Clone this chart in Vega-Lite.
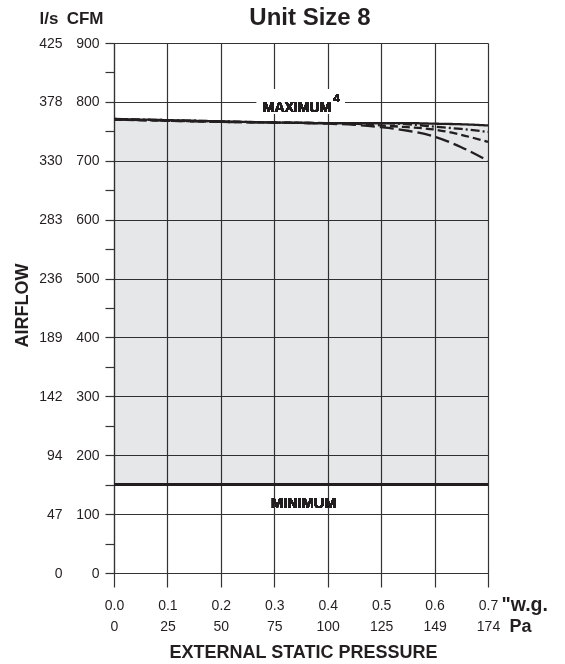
{
  "$schema": "https://vega.github.io/schema/vega-lite/v6.json",
  "width": 374,
  "height": 530,
  "autosize": "none",
  "padding": {"left": 114, "top": 43, "right": 77, "bottom": 91},
  "background": "white",
  "title": {"text": "Unit Size 8", "font": "Liberation Sans", "fontSize": 24, "fontWeight": "bold", "color": "#231f20", "anchor": "middle", "dx": 9, "offset": -40, "baseline": "alphabetic"},
  "config": {
    "view": {"stroke": null},
    "font": "Liberation Sans",
    "axis": {
      "labelFont": "Liberation Sans", "labelFontSize": 14, "labelColor": "#231f20",
      "titleFont": "Liberation Sans", "titleFontWeight": "bold", "titleColor": "#231f20", "titleFontSize": 18,
      "domainColor": "#333333", "tickColor": "#333333", "gridColor": "#333333",
      "gridWidth": 1.2, "tickWidth": 1.2, "domainWidth": 1.2,
      "labelFlush": false, "labelOverlap": false
    }
  },
  "data": {"values": [
    {"p": 0.0, "cfm": 771, "curve": "solid"},
    {"p": 0.1, "cfm": 769, "curve": "solid"},
    {"p": 0.2, "cfm": 767, "curve": "solid"},
    {"p": 0.3, "cfm": 765, "curve": "solid"},
    {"p": 0.4, "cfm": 764, "curve": "solid"},
    {"p": 0.45, "cfm": 764, "curve": "solid"},
    {"p": 0.5, "cfm": 764, "curve": "solid"},
    {"p": 0.55, "cfm": 764, "curve": "solid"},
    {"p": 0.6, "cfm": 763, "curve": "solid"},
    {"p": 0.65, "cfm": 762, "curve": "solid"},
    {"p": 0.7, "cfm": 760, "curve": "solid"},
    {"p": 0.0, "cfm": 771, "curve": "dashdot"},
    {"p": 0.1, "cfm": 769, "curve": "dashdot"},
    {"p": 0.2, "cfm": 767, "curve": "dashdot"},
    {"p": 0.3, "cfm": 765, "curve": "dashdot"},
    {"p": 0.4, "cfm": 764, "curve": "dashdot"},
    {"p": 0.45, "cfm": 764, "curve": "dashdot"},
    {"p": 0.5, "cfm": 764, "curve": "dashdot"},
    {"p": 0.55, "cfm": 762, "curve": "dashdot"},
    {"p": 0.6, "cfm": 758, "curve": "dashdot"},
    {"p": 0.65, "cfm": 754, "curve": "dashdot"},
    {"p": 0.7, "cfm": 749, "curve": "dashdot"},
    {"p": 0.0, "cfm": 770, "curve": "medium"},
    {"p": 0.1, "cfm": 768, "curve": "medium"},
    {"p": 0.2, "cfm": 766, "curve": "medium"},
    {"p": 0.3, "cfm": 765, "curve": "medium"},
    {"p": 0.4, "cfm": 764, "curve": "medium"},
    {"p": 0.45, "cfm": 763, "curve": "medium"},
    {"p": 0.5, "cfm": 760, "curve": "medium"},
    {"p": 0.55, "cfm": 757, "curve": "medium"},
    {"p": 0.6, "cfm": 753, "curve": "medium"},
    {"p": 0.65, "cfm": 744, "curve": "medium"},
    {"p": 0.7, "cfm": 732, "curve": "medium"},
    {"p": 0.0, "cfm": 770, "curve": "long"},
    {"p": 0.1, "cfm": 768, "curve": "long"},
    {"p": 0.2, "cfm": 766, "curve": "long"},
    {"p": 0.3, "cfm": 765, "curve": "long"},
    {"p": 0.4, "cfm": 763, "curve": "long"},
    {"p": 0.45, "cfm": 761, "curve": "long"},
    {"p": 0.5, "cfm": 757, "curve": "long"},
    {"p": 0.55, "cfm": 751, "curve": "long"},
    {"p": 0.6, "cfm": 741, "curve": "long"},
    {"p": 0.65, "cfm": 723, "curve": "long"},
    {"p": 0.7, "cfm": 700, "curve": "long"}
  ]},
  "layer": [
    {
      "transform": [{"filter": "datum.curve == 'solid'"}],
      "mark": {"type": "area", "interpolate": "monotone", "fill": "#e6e7e8", "blend": "multiply"},
      "encoding": {
        "x": {"field": "p", "type": "quantitative", "scale": {"domain": [0, 0.7], "nice": false},
          "axis": {"orient": "bottom", "values": [0, 0.1, 0.2, 0.3, 0.4, 0.5, 0.6, 0.7], "format": ".1f", "grid": true, "tickSize": 14, "labelPadding": 11,
            "title": "\"w.g.", "titleX": 387, "titleY": 37, "titleAlign": "left", "titleAnchor": "start", "titleBaseline": "alphabetic", "titleFontSize": 19.5}},
        "y": {"field": "cfm", "type": "quantitative", "scale": {"domain": [0, 900], "nice": false},
          "axis": {"orient": "left", "values": [0, 50, 100, 150, 200, 250, 300, 350, 400, 450, 500, 550, 600, 650, 700, 750, 800, 850, 900],
            "labelExpr": "datum.value % 100 == 0 ? datum.label : ''", "grid": true,
            "gridOpacity": {"condition": {"test": "datum.value % 100 != 0", "value": 0}, "value": 1},
            "tickSize": 9, "labelPadding": 6, "labelBaseline": "middle",
            "title": "CFM", "titleAngle": 0, "titleX": -11, "titleY": -20, "titleAlign": "right", "titleAnchor": "start", "titleBaseline": "alphabetic", "titleFontSize": 17}},
        "y2": {"datum": 150}
      }
    },
    {
      "mark": {"type": "rect", "fill": "white"},
      "encoding": {
        "x": {"datum": 0.2676, "type": "quantitative", "axis": null},
        "x2": {"datum": 0.432},
        "y": {"datum": 780, "type": "quantitative", "axis": null},
        "y2": {"datum": 822}
      }
    },
    {
      "mark": {"type": "line", "interpolate": "monotone", "stroke": "#231f20", "strokeWidth": 2.3},
      "encoding": {
        "x": {"field": "p", "type": "quantitative", "scale": {"domain": [0, 0.7], "nice": false},
          "axis": {"orient": "bottom", "values": [0, 0.1, 0.2, 0.3, 0.4, 0.5, 0.6, 0.7], "labelExpr": "format(round(datum.value * 249.09), 'd')",
            "grid": false, "ticks": false, "tickSize": 0, "domain": false, "labelPadding": 46,
            "title": "Pa", "titleX": 395, "titleY": 58, "titleAlign": "left", "titleAnchor": "start", "titleBaseline": "alphabetic"}},
        "y": {"field": "cfm", "type": "quantitative", "scale": {"domain": [0, 900], "nice": false},
          "axis": {"orient": "left", "values": [0, 100, 200, 300, 400, 500, 600, 700, 800, 900], "labelExpr": "format(round(datum.value * 0.4719), 'd')",
            "grid": false, "ticks": false, "tickSize": 0, "domain": false, "labelPadding": 52, "labelBaseline": "middle",
            "title": "l/s", "titleAngle": 0, "titleX": -56, "titleY": -20, "titleAlign": "right", "titleAnchor": "start", "titleBaseline": "alphabetic", "titleFontSize": 17}},
        "strokeDash": {"field": "curve", "type": "nominal", "legend": null,
          "scale": {"domain": ["long", "medium", "dashdot", "solid"], "range": [[14, 5], [8, 4], [9, 3, 2, 3], [1, 0]]}}
      }
    },
    {
      "mark": {"type": "rule", "stroke": "#231f20", "strokeWidth": 2},
      "encoding": {"y": {"datum": 150, "type": "quantitative", "axis": null}}
    },
    {
      "mark": {"type": "text", "text": "MAXIMUM", "font": "Liberation Sans", "fontWeight": "bold", "fontSize": 14, "color": "#231f20", "baseline": "alphabetic", "align": "center"},
      "encoding": {
        "x": {"datum": 0.3425, "type": "quantitative", "axis": null},
        "y": {"datum": 783, "type": "quantitative", "axis": null}
      }
    },
    {
      "mark": {"type": "text", "text": "4", "font": "Liberation Sans", "fontWeight": "bold", "fontSize": 11, "color": "#231f20", "baseline": "alphabetic", "align": "center"},
      "encoding": {
        "x": {"datum": 0.4165, "type": "quantitative", "axis": null},
        "y": {"datum": 800, "type": "quantitative", "axis": null}
      }
    },
    {
      "mark": {"type": "text", "text": "MINIMUM", "font": "Liberation Sans", "fontWeight": "bold", "fontSize": 14.5, "color": "#231f20", "baseline": "alphabetic", "align": "center"},
      "encoding": {
        "x": {"datum": 0.355, "type": "quantitative",
          "axis": {"orient": "bottom", "labels": false, "ticks": false, "tickSize": 0, "domain": false, "grid": false,
            "title": "EXTERNAL STATIC PRESSURE", "titleX": 189, "titleY": 84, "titleAlign": "center", "titleAnchor": "middle", "titleBaseline": "alphabetic"}},
        "y": {"datum": 110, "type": "quantitative",
          "axis": {"orient": "left", "labels": false, "ticks": false, "tickSize": 0, "domain": false, "grid": false,
            "title": "AIRFLOW", "titleAngle": -90, "titleX": -92, "titleY": 262, "titleAlign": "center", "titleAnchor": "middle", "titleBaseline": "middle"}}
      }
    }
  ],
  "resolve": {"axis": {"x": "independent", "y": "independent"}}
}
